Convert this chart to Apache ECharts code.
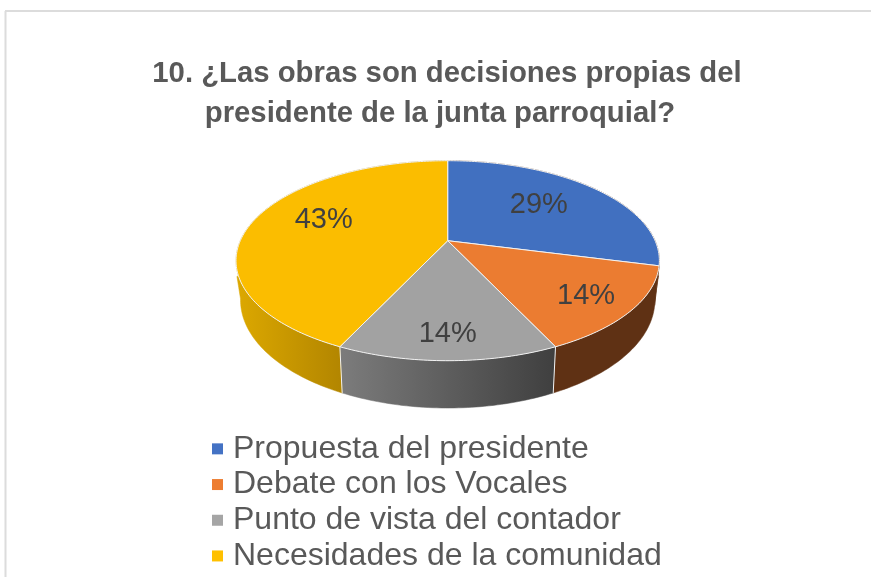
<!DOCTYPE html>
<html>
<head>
<meta charset="utf-8">
<style>html,body{margin:0;padding:0;background:#fff}#c{width:871px;height:577px}</style>
<script src="https://cdn.jsdelivr.net/npm/echarts@6/dist/echarts.min.js"></script>
</head>
<body>
<div id="c"></div>
<script>
const titleLines = ['10. ¿Las obras son decisiones propias del', 'presidente de la junta parroquial?'];
const categories = ['Propuesta del presidente', 'Debate con los Vocales', 'Punto de vista del contador', 'Necesidades de la comunidad'];
const values = [29, 14, 14, 43];
const topColors = ['#4472C4', '#ED7D31', '#A5A5A5', '#FFC000'];
const topFills = ['#4170C0', '#EB7C31', '#A2A2A2', '#FBBD00'];
const sideFrom = ['#5F3114', '#5F3114', '#7C7C7C', '#DCA800'];
const sideTo = ['#5F3114', '#5F3114', '#3F3F3F', '#B38600'];
const labelRadius = [0.64, 0.78, 0.80, 0.675];
const labelAngleShift = [-4, 0, 0, 9];

// Perspective model of the tilted disc
const CX = 447.7, CY = 240.7, A = 207.4, B = 96, K = 0.2;
const LOW_CY = 278.4, LOW_A = 203, LOW_B = 103.7;
const total = values.reduce((a, b) => a + b, 0);
const rad = d => d * Math.PI / 180;

function unit(thetaDeg, r) {
  const x = r * Math.sin(rad(thetaDeg)), y = -r * Math.cos(rad(thetaDeg));
  const w = 1 - K * y;
  return [x / w, y / w];
}
const topPt = (t, r) => { const p = unit(t, r); return [CX + A * p[0], CY + B * p[1]]; };
const lowPt = t => {
  const p = unit(t, 1);
  const Y = LOW_CY + LOW_B * p[1];
  let dx = LOW_A * p[0];
  if (Y >= 275 && Y < 300) dx = Math.sign(dx) * (207 + (300 - Y) * 0.16);  // straight silhouette edge below the rim
  return [CX + dx, Y];
};

function sliceStart(i) {
  let s = 0;
  for (let j = 0; j < i; j++) s += values[j];
  return s / total * 360;
}
function arcAngles(a, b) {
  const out = [];
  const n = Math.max(2, Math.ceil(b - a));
  for (let k = 0; k <= n; k++) out.push(a + (b - a) * k / n);
  return out;
}
function makeRender(i) {
  return function (params, api) {
    const v = api.value(0);
    const a = sliceStart(i);
    const b = a + v / total * 360;
    const ts = arcAngles(a, b);
    const topArc = ts.map(t => topPt(t, 1));
    const lowArc = ts.map(lowPt).reverse();
    const fromX = topPt(Math.max(a, 95), 1)[0], toX = topPt(Math.min(b, 265), 1)[0];
    const x0 = Math.min(fromX, toX), x1 = Math.max(fromX, toX);
    const sideFill = new echarts.graphic.LinearGradient(x0, 0, x1, 0,
      [{offset: 0, color: sideFrom[i]}, {offset: 1, color: sideTo[i]}], true);
    const mid = (a + b) / 2 + labelAngleShift[i];
    const lp = topPt(mid, labelRadius[i]);
    const children = [
      {type: 'polygon', z2: i === 0 ? 3 : 1, shape: {points: topArc.concat(lowArc)},
       style: {fill: sideFill, stroke: sideFill, lineWidth: 0.5}},
      {type: 'polygon', z2: 10, shape: {points: [[CX, CY]].concat(topArc)},
       style: {fill: topFills[i], stroke: '#f2f2f2', lineWidth: 1, lineJoin: 'round'}},
      {type: 'text', z2: 20, x: lp[0], y: lp[1] + 2,
       style: {text: Math.round(v / total * 100) + '%', fill: '#404040',
               font: '29px "Liberation Sans", Arial, sans-serif', align: 'center', verticalAlign: 'middle'}}
    ];
    if (a > 120 && a < 240) {
      const p = topPt(a, 1), q = lowPt(a);
      children.push({type: 'line', z2: 5, shape: {x1: p[0], y1: p[1], x2: q[0], y2: q[1]},
        style: {stroke: '#f2f2f2', lineWidth: 1}});
    }
    return {type: 'group', children: children};
  };
}

const chart = echarts.init(document.getElementById('c'), null, {renderer: 'canvas'});
const titleFont = {fontFamily: '"Liberation Sans", Arial, sans-serif', fontSize: 29.3, fontWeight: 'bold', color: '#595959'};
chart.setOption({
  animation: false,
  backgroundColor: '#fff',
  color: topColors,
  title: [
    {text: titleLines[0], left: 447, top: 59, textAlign: 'center', textStyle: titleFont, padding: 0},
    {text: titleLines[1], left: 440, top: 99, textAlign: 'center', textStyle: titleFont, padding: 0}
  ],
  legend: {
    orient: 'vertical', left: 212, top: 431, padding: 0, itemGap: 0,
    itemWidth: 11, itemHeight: 11, icon: 'rect',
    data: categories, selectedMode: false,
    textStyle: {fontFamily: '"Liberation Sans", Arial, sans-serif', fontSize: 32, color: '#595959', lineHeight: 35.7, padding: [0, 0, 0, 5]}
  },
  graphic: [
    {type: 'line', shape: {x1: 5.5, y1: 11, x2: 5.5, y2: 577}, style: {stroke: '#dcdcdc', lineWidth: 2}},
    {type: 'line', shape: {x1: 5, y1: 11, x2: 871, y2: 11}, style: {stroke: '#dcdcdc', lineWidth: 2}}
  ],
  series: categories.map((name, i) => ({
    type: 'custom', name: name, coordinateSystem: 'none', silent: true,
    renderItem: makeRender(i), data: [[values[i]]]
  }))
});
</script>
</body>
</html>
